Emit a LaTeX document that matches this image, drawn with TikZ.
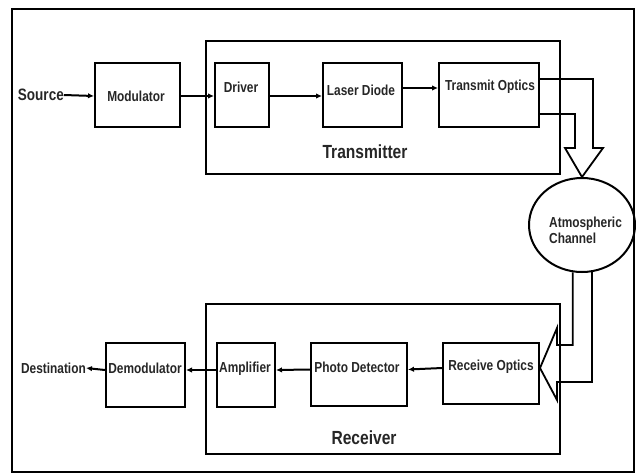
\documentclass[tikz,border=0pt]{standalone}
\usepackage{fontspec}
\setmainfont{Liberation Sans}
\newfontfamily\lblfont{Liberation Sans}[FakeStretch=0.82]
\usetikzlibrary{arrows.meta,shapes.geometric,calc}

\tikzset{
  blk/.style={draw, line width=2pt, minimum width=#1, anchor=north west, inner sep=0pt},
  grp/.style={draw, line width=2pt, anchor=north west, inner sep=0pt},
  lbl/.style={font=\lblfont\bfseries\fontsize{14.5}{16}\selectfont, text=black!85, inner sep=0pt},
  biglbl/.style={font=\lblfont\bfseries\fontsize{19}{21}\selectfont, text=black!85, inner sep=0pt},
  arr/.style={line width=2pt, -{Latex[length=6pt,width=5.5pt]}},
  hollow/.style={line width=1.8pt, line join=miter},
}

\begin{document}
\begin{tikzpicture}[x=1pt,y=-1pt]
\useasboundingbox (0,0) rectangle (636,474);

% outer frame
\draw[line width=2.4pt] (12,9) rectangle (634,472);

% transmitter and receiver groups
\node[grp, minimum width=354pt, minimum height=133pt] (tx) at (205,40) {};
\node[grp, minimum width=354pt, minimum height=150pt] (rx) at (205,303) {};
\node[biglbl] (txt) at (365,152) {Transmitter};
\node[biglbl] (rxt) at (364,438) {Receiver};

% transmit chain
\node[blk=85pt,  minimum height=64pt] (mod) at (94,62)  {};
\node[blk=54pt,  minimum height=64pt] (drv) at (214,62) {};
\node[blk=79pt,  minimum height=64pt] (ld)  at (322,62) {};
\node[blk=100pt, minimum height=64pt] (to)  at (438,62) {};
\node[lbl] (modt) at (136,96) {Modulator};
\node[lbl] (drvt) at (241,87) {Driver};
\node[lbl] (ldt)  at (361,90) {Laser Diode};
\node[lbl] (tot)  at (490,87) {Transmit Optics};
\node[font=\lblfont\bfseries\fontsize{16.5}{18}\selectfont, text=black!85, inner sep=0pt, anchor=east] (src) at (64,95) {Source};

\draw[arr] (src.east) -- ([yshift=-1pt]mod.west);
\draw[arr] ([yshift=-1pt]mod.east) -- ([yshift=-1pt]drv.west);
\draw[arr] ([yshift=-1pt]drv.east) -- ([yshift=-1pt]ld.west);
\draw[arr] ([yshift=7pt]ld.east) -- ([yshift=7pt]to.west);

% channel
\node[draw, ellipse, line width=2pt, minimum width=106pt, minimum height=94pt, inner sep=0pt] (ell) at (582,225) {};
\node[lbl, align=left, anchor=west] (ellt) at (549,230) {Atmospheric\\Channel};

% hollow arrow into the channel
\draw[hollow] ([yshift=16pt]to.east) -| (593,148) -- (603,148) -- (ell.north)
  -- (565,148) -- (575,148) |- ([yshift=-19pt]to.east);

% receive chain
\node[blk=79pt, minimum height=64pt] (dem) at (105,342) {};
\node[blk=58pt, minimum height=64pt] (amp) at (216,342) {};
\node[blk=96pt, minimum height=63pt] (pd)  at (310,342) {};
\node[blk=96pt, minimum height=61pt] (ro)  at (442,342) {};
\node[lbl] (demt) at (145,368) {Demodulator};
\node[lbl] (ampt) at (245,369) {Amplifier};
\node[lbl] (pdt)  at (357,367) {Photo Detector};
\node[lbl] (rot)  at (491,367) {Receive Optics};
\node[lbl, anchor=east] (dst) at (86,368) {Destination};

% hollow arrow out of the channel
\draw[hollow] (ell.-101) |- (557,345) -- (557,328) -- ([yshift=5.5pt]ro.east)
  -- (557,400) -- (557,382) -| (ell.-78);

\draw[arr] ([yshift=5.5pt]ro.west) -- ([yshift=5pt]pd.east);
\draw[arr] ([yshift=5pt]pd.west) -- ([yshift=5pt]amp.east);
\draw[arr] ([yshift=5pt]amp.west) -- ([yshift=5pt]dem.east);
\draw[arr] ([yshift=5pt]dem.west) -- (dst.east);
\end{tikzpicture}
\end{document}
